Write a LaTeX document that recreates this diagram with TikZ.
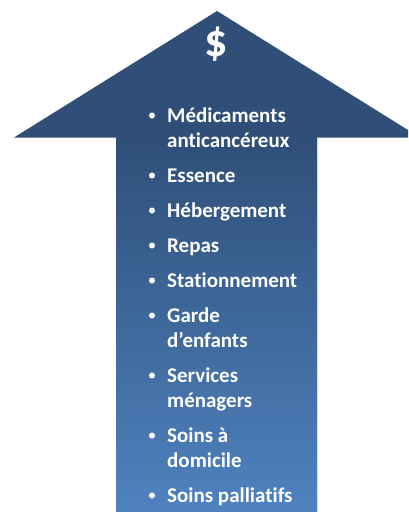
\documentclass[tikz,border=0pt]{standalone}
\usepackage{fontspec}
\setmainfont{Carlito}[Ligatures={NoCommon}]
\definecolor{arrowtop}{HTML}{2F4F78}
\definecolor{arrowbot}{HTML}{4F82BF}
\begin{document}
\begin{tikzpicture}[x=1pt,y=-1pt,
  item/.style={anchor=base west,inner sep=0pt,text=white,
    font=\fontsize{21}{25}\selectfont\bfseries},
  dot/.style={circle,fill=white,inner sep=0pt,minimum size=6pt}]
\useasboundingbox (0,0) rectangle (408,512);
\clip (0,0) rectangle (408,512);
% arrow head and shaft
\fill[arrowtop] (217,11) -- (420,137.5) -- (317,137.5) -- (317,520)
  -- (116,520) -- (116,137.5) -- (14,137.5) -- cycle;
\shade[top color=arrowtop,bottom color=arrowbot] (116,137) rectangle (317,512);
% dollar sign
\node[text=white,font=\fontsize{46}{48}\selectfont\bfseries] (dollar) at (216,44) {\$};
% bullet list
\foreach \y [count=\i] in {122,182,217,252,287,322,382,442,502}{
  \node[dot] (b\i) at (152,\y-6.5) {};
}
\node[item] (t1) at (167,122) {Médicaments};
\node[item] (t1b) at (167,147) {anticancéreux};
\node[item] (t2) at (167,182) {Essence};
\node[item] (t3) at (167,217) {Hébergement};
\node[item] (t4) at (167,252) {Repas};
\node[item] (t5) at (167,287) {Stationnement};
\node[item] (t6) at (167,322) {Garde};
\node[item] (t6b) at (167,347) {d’enfants};
\node[item] (t7) at (167,382) {Services};
\node[item] (t7b) at (167,407) {ménagers};
\node[item] (t8) at (167,442) {Soins à};
\node[item] (t8b) at (167,467) {domicile};
\node[item] (t9) at (167,502) {Soins palliatifs};
\end{tikzpicture}
\end{document}
